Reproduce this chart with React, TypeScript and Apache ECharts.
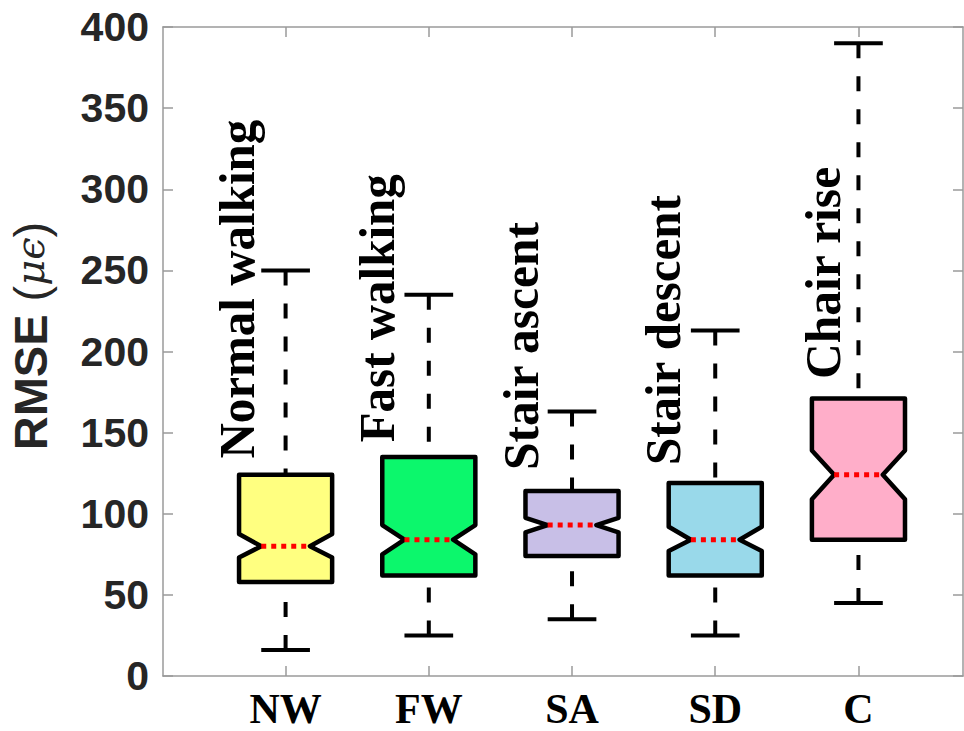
import React, { useEffect, useRef } from 'react';
import * as echarts from 'echarts';

const categories = ['NW', 'FW', 'SA', 'SD', 'C'];
const activityLabels = ['Normal walking', 'Fast walking', 'Stair ascent', 'Stair descent', 'Chair rise'];
const whiskerLow = [16, 25, 35, 25, 45];
const quartile1 = [58, 62, 74, 62, 84];
const medians = [80, 84, 93, 84, 124];
const quartile3 = [124, 135, 114, 119, 171];
const whiskerHigh = [250, 235, 163, 213, 390];
const notchLow = [73, 75, 88.5, 77, 109];
const notchHigh = [87.5, 93, 97.5, 92, 139];
// value (in µε) where each rotated activity label begins
const labelStartValue = [134, 144, 127, 130, 183];

const boxColors = ['#ffff80', '#0cf76c', '#c8bfe7', '#99d9ea', '#ffaec9'];
const labelShiftPx = [-48, -51, -51, -52, -35];
const labelStretch = [0.98, 0.98, 0.99, 0.98, 0.99];

const X_MIN = 0.144;
const X_MAX = 5.73;
const BOX_HALF = 0.325;
const NOTCH_HALF = 0.17;
const CAP_HALF = 0.17;

const AXIS_GRAY = '#9a9a9a';
const positions = categories.map((_, i) => i + 1);

export default function App() {
  const ref = useRef<HTMLDivElement>(null);
  useEffect(() => {
    const chart = echarts.init(ref.current!, null, { renderer: 'svg' });
    const data = categories.map((_, i) => [
      positions[i], whiskerLow[i], quartile1[i], medians[i], quartile3[i], whiskerHigh[i],
      notchLow[i], notchHigh[i], labelStartValue[i],
    ]);
    const axisCommonX = {
      type: 'value' as const,
      min: X_MIN,
      max: X_MAX,
      splitLine: { show: false },
      axisLine: { show: true, onZero: false, lineStyle: { color: AXIS_GRAY, width: 1.5 } },
      axisTick: { show: true, inside: true, length: 10, customValues: positions, lineStyle: { color: AXIS_GRAY, width: 1.5 } },
    };
    const axisCommonY = {
      type: 'value' as const,
      min: 0,
      max: 400,
      interval: 50,
      splitLine: { show: false },
      axisLine: { show: true, lineStyle: { color: AXIS_GRAY, width: 1.5 } },
      axisTick: { show: true, inside: true, length: 10, lineStyle: { color: AXIS_GRAY, width: 1.5 } },
    };
    const option: any = {
      animation: false,
      backgroundColor: '#ffffff',
      grid: { left: 163, top: 27, right: 1, bottom: 55 },
      xAxis: [
        {
          ...axisCommonX,
          position: 'bottom',
          axisLabel: {
            customValues: positions,
            formatter: (v: number) => categories[Math.round(v) - 1] ?? '',
            fontFamily: '"Liberation Serif", "Times New Roman", serif',
            fontWeight: 'bold',
            fontSize: 42,
            lineHeight: 36,
            color: '#000',
            margin: 15,
          },
        },
        { ...axisCommonX, position: 'top', axisLabel: { show: false } },
      ],
      yAxis: [
        {
          ...axisCommonY,
          position: 'left',
          axisLabel: {
            fontFamily: '"Liberation Sans", Arial, sans-serif',
            fontWeight: 'bold',
            fontSize: 41,
            color: '#262626',
            margin: 14,
          },
        },
        { ...axisCommonY, position: 'right', axisLabel: { show: false } },
      ],
      graphic: [
        {
          type: 'text',
          x: 30,
          y: 336,
          rotation: Math.PI / 2,
          style: {
            text: '{a|RMSE }{b|(}{c|μϵ}{b|)}',
            align: 'center',
            verticalAlign: 'middle',
            rich: {
              a: { fontFamily: '"Liberation Sans", Arial, sans-serif', fontWeight: 'bold', fontSize: 47, fill: '#262626' },
              b: { fontFamily: '"Liberation Sans", Arial, sans-serif', fontWeight: 'normal', fontSize: 47, fill: '#262626' },
              c: { fontFamily: '"DejaVu Serif", serif', fontStyle: 'italic', fontWeight: 'normal', fontSize: 40, fill: '#262626' },
            },
          },
        },
      ],
      series: [
        {
          type: 'custom',
          xAxisIndex: 0,
          yAxisIndex: 0,
          encode: { x: 0, y: [1, 5] },
          data,
          clip: false,
          renderItem: (params: any, api: any) => {
            const i = params.dataIndex;
            const x = api.value(0);
            const lo = api.value(1);
            const q1 = api.value(2);
            const med = api.value(3);
            const q3 = api.value(4);
            const hi = api.value(5);
            const nLo = api.value(6);
            const nHi = api.value(7);
            const lab = api.value(8);
            const P = (dx: number, v: number) => api.coord([x + dx, v]);
            const c0 = P(0, 0);
            const whiskerStyle = { stroke: '#000', lineWidth: 4, lineDash: [15, 18], lineCap: 'butt' };
            const capStyle = { stroke: '#000', lineWidth: 4 };
            const line = (a: number[], b: number[], style: any) => ({
              type: 'line',
              shape: { x1: a[0], y1: a[1], x2: b[0], y2: b[1] },
              style,
            });
            const pts = [
              P(-BOX_HALF, q3), P(BOX_HALF, q3), P(BOX_HALF, nHi), P(NOTCH_HALF, med),
              P(BOX_HALF, nLo), P(BOX_HALF, q1), P(-BOX_HALF, q1), P(-BOX_HALF, nLo),
              P(-NOTCH_HALF, med), P(-BOX_HALF, nHi),
            ];
            const labelPos = P(0, lab);
            return {
              type: 'group',
              children: [
                line(P(0, hi), P(0, q3), whiskerStyle),
                line(P(0, lo), P(0, q1), whiskerStyle),
                line(P(-CAP_HALF, hi), P(CAP_HALF, hi), capStyle),
                line(P(-CAP_HALF, lo), P(CAP_HALF, lo), capStyle),
                {
                  type: 'polygon',
                  shape: { points: pts },
                  style: { fill: boxColors[i], stroke: '#000', lineWidth: 4.5, lineJoin: 'round' },
                },
                line(P(-NOTCH_HALF, med), P(NOTCH_HALF, med), { stroke: '#ff0000', lineWidth: 5, lineDash: [5, 5] }),
                {
                  type: 'text',
                  x: c0[0] + labelShiftPx[i],
                  y: labelPos[1],
                  rotation: Math.PI / 2,
                  scaleX: labelStretch[i],
                  style: {
                    text: activityLabels[i],
                    font: 'bold 50px "Liberation Serif", "Times New Roman", serif',
                    fill: '#000',
                    align: 'left',
                    verticalAlign: 'middle',
                  },
                },
              ],
            };
          },
        },
      ],
    };
    chart.setOption(option);
    return () => chart.dispose();
  }, []);
  return <div ref={ref} style={{ position: 'fixed', left: 0, top: 0, width: 964, height: 731 }} />;
}
